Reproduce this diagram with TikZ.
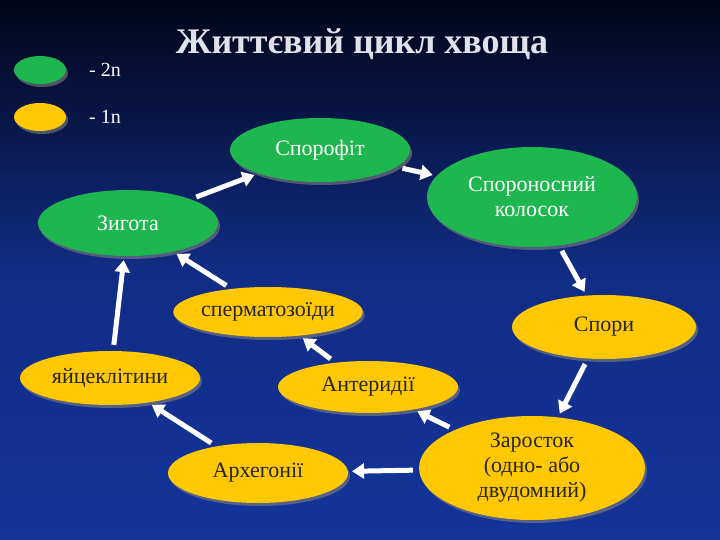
\documentclass[tikz,border=0pt]{standalone}
\usepackage{fontspec}
\setmainfont{Liberation Serif}
\usetikzlibrary{arrows.meta,shadows,shapes.geometric}
\definecolor{gfill}{RGB}{30,182,78}
\definecolor{yfill}{RGB}{255,200,0}
\definecolor{bgtop}{RGB}{2,6,25}
\definecolor{bgbot}{RGB}{20,52,155}
\definecolor{ttl}{RGB}{225,225,235}
\tikzset{
  ell/.style={ellipse,minimum width=#1,inner sep=0pt,drop shadow={opacity=0.6,shadow xshift=2pt,shadow yshift=-3pt}},
  gr/.style={draw=none,fill=gfill,text=white},
  ye/.style={draw=none,fill=yfill,text=black!85},
  arr/.style={white,line width=5pt,-{Triangle[length=12pt,width=15pt]},shorten >=4pt,shorten <=6pt},
  lbl/.style={font=\fontsize{22}{25}\selectfont}
}
\begin{document}
\begin{tikzpicture}[x=1pt,y=-1pt]
\shade[top color=bgtop,bottom color=bgbot,middle color=bgbot!85!black] (0,0) rectangle (720,540);
\useasboundingbox (0,0) rectangle (720,540);
\node[ell,gr,minimum width=52pt,minimum height=28pt] (lg) at (40,70) {};
\node[ell,ye,minimum width=52pt,minimum height=28pt] (ly) at (40,117) {};
\node[text=white,font=\fontsize{20}{22}\selectfont] (tg) at (105,70) {- 2n};
\node[text=white,font=\fontsize{20}{22}\selectfont] (ty) at (105,117) {- 1n};
\node[text=ttl,font=\bfseries\fontsize{36}{38}\selectfont] (title) at (362,44) {Життєвий цикл хвоща};
\node[ell,gr,minimum width=180pt,minimum height=64pt,lbl] (spf) at (320,150) {Спорофіт};
\node[ell,gr,minimum width=210pt,minimum height=100pt,lbl,align=center] (kol) at (532,197) {Спороносний\\колосок};
\node[ell,gr,minimum width=180pt,minimum height=66pt,lbl] (zyg) at (128,223) {Зигота};
\node[ell,ye,minimum width=180pt,minimum height=50pt,lbl] (sperm) at (268,312) {сперматозоїди};
\node[ell,ye,minimum width=184pt,minimum height=64pt,lbl] (spor) at (604,327) {Спори};
\node[ell,ye,minimum width=180pt,minimum height=54pt,lbl] (egg) at (110,378) {яйцеклітини};
\node[ell,ye,minimum width=180pt,minimum height=52pt,lbl] (ant) at (368,387) {Антеридії};
\node[ell,ye,minimum width=180pt,minimum height=60pt,lbl] (arch) at (258,473) {Архегонії};
\node[ell,ye,minimum width=226pt,minimum height=104pt,lbl,align=center] (zar) at (532,468) {Заросток\\(одно- або\\двудомний)};
\draw[arr] (zyg) -- (spf);
\draw[arr] (spf) -- (kol);
\draw[arr] (kol) -- (spor);
\draw[arr] (spor) -- (zar);
\draw[arr] (zar) -- (ant);
\draw[arr] (zar) -- (arch);
\draw[arr] (arch) -- (egg);
\draw[arr] (ant) -- (sperm);
\draw[arr] (sperm) -- (zyg);
\draw[arr] (egg) -- (zyg);
\end{tikzpicture}
\end{document}
